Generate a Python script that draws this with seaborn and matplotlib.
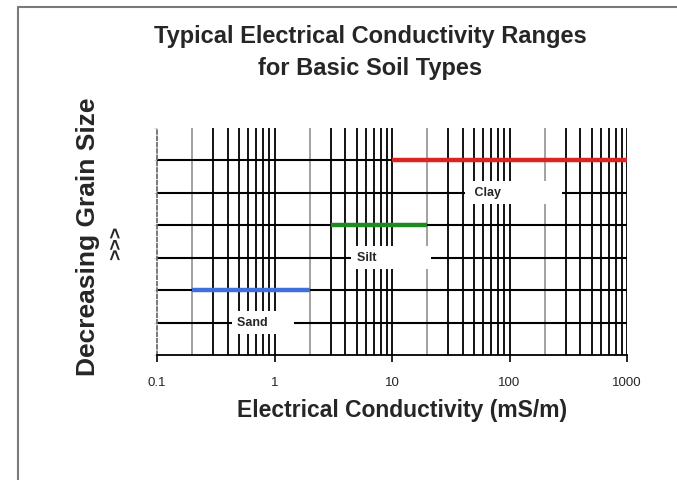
import matplotlib
matplotlib.use("Agg")
import matplotlib.pyplot as plt
import seaborn as sns
import pandas as pd
import numpy as np
from matplotlib.ticker import LogLocator, FixedLocator, NullFormatter

# ---- data ----
soils = ["Sand", "Silt", "Clay"]
ec_low = [0.2, 3, 10]          # mS/m
ec_high = [2, 20, 1000]        # mS/m
grain_level = [2, 4, 6]        # relative (decreasing grain size upward)
label_x = [0.48, 5, 47]
label_y = [1, 3, 5]
colors = ["#3f6fd8", "#1f8a1f", "#dc2323"]
xticks = [0.1, 1, 10, 100, 1000]
xtick_labels = ["0.1", "1", "10", "100", "1000"]

rows = []
for s, lo, hi, g in zip(soils, ec_low, ec_high, grain_level):
    rows.append({"soil": s, "ec": lo, "level": g})
    rows.append({"soil": s, "ec": hi, "level": g})
df = pd.DataFrame(rows)

sns.set_style("white")
plt.rcParams["font.family"] = ["Liberation Sans", "DejaVu Sans"]

fig = plt.figure(figsize=(6.77, 4.8), dpi=100)
ax = fig.add_axes([157 / 677, 1 - 355 / 480, (627 - 157) / 677, (355 - 128) / 480])

ax.set_xscale("log")
ax.set_xlim(0.1, 1000)
ax.set_ylim(0, 7)

# grid: vertical log lines
for dec in [0.1, 1, 10, 100]:
    for m in range(1, 10):
        v = dec * m
        if v <= 0.1:
            continue
        col = "#9a9a9a" if m == 2 else "black"
        ax.axvline(v, color=col, lw=1.3, zorder=1)
ax.axvline(1000, color="black", lw=1.3, zorder=1)
for yy in range(1, 7):
    ax.axhline(yy, color="black", lw=1.5, zorder=1)

sns.lineplot(data=df, x="ec", y="level", hue="soil", palette=dict(zip(soils, colors)),
             hue_order=soils, lw=3.2, legend=False, ax=ax, zorder=3, sort=False)
for ln in ax.get_lines()[-3:]:
    ln.set_solid_capstyle("butt")

lead = ["", "", " "]
trail = [6, 14, 16]
for s, lx, ly, ld, tr in zip(soils, label_x, label_y, lead, trail):
    ax.text(lx, ly, ld + s + " " * tr, fontsize=9, fontweight="bold", va="center", ha="left",
            zorder=4, bbox=dict(facecolor="white", edgecolor="none", pad=4))

ax.xaxis.set_major_locator(FixedLocator(xticks))
ax.set_xticklabels(xtick_labels)
ax.xaxis.set_minor_locator(LogLocator(base=10, subs=np.arange(2, 10)))
ax.xaxis.set_minor_formatter(NullFormatter())
ax.tick_params(axis="x", which="major", length=5, width=1.2, color="black",
               labelsize=9.5, pad=11, bottom=True)
ax.tick_params(axis="x", which="minor", length=0)
ax.set_yticks(range(0, 8))
ax.set_yticklabels([])
ax.tick_params(axis="y", length=2, width=0.8, color="#d0d0d0", left=True)

for side in ["top", "right"]:
    ax.spines[side].set_visible(False)
ax.spines["bottom"].set_color("black")
ax.spines["bottom"].set_linewidth(1.3)
ax.spines["left"].set_color("#707070")
ax.spines["left"].set_linewidth(1.3)
ax.spines["left"].set_linestyle((0, (2, 1.5)))

ax.set_xlabel("")
ax.set_ylabel("")
fig.text(402 / 677, 1 - 411 / 480, "Electrical Conductivity (mS/m)", fontsize=16.5,
         fontweight="bold", ha="center", va="center")
fig.text(88 / 677, 1 - 237 / 480, "Decreasing Grain Size", rotation=90, fontsize=19,
         fontweight="bold", ha="center", va="center")
fig.text(117 / 677, 1 - 243 / 480, ">>>", rotation=90, fontsize=14, fontweight="bold",
         ha="center", va="center")
fig.text(370 / 677, 1 - 36 / 480, "Typical Electrical Conductivity Ranges", fontsize=17,
         fontweight="bold", ha="center", va="center")
fig.text(370 / 677, 1 - 69 / 480, "for Basic Soil Types", fontsize=17,
         fontweight="bold", ha="center", va="center")

# figure frame (left and top edges)
fig.add_artist(plt.Line2D([18 / 677, 18 / 677], [0, 1 - 7 / 480], transform=fig.transFigure,
                          color="#7a7a7a", lw=1.5))
fig.add_artist(plt.Line2D([18 / 677, 1], [1 - 7 / 480, 1 - 7 / 480], transform=fig.transFigure,
                          color="#7a7a7a", lw=1.5))

fig.savefig("out.png", dpi=100)
